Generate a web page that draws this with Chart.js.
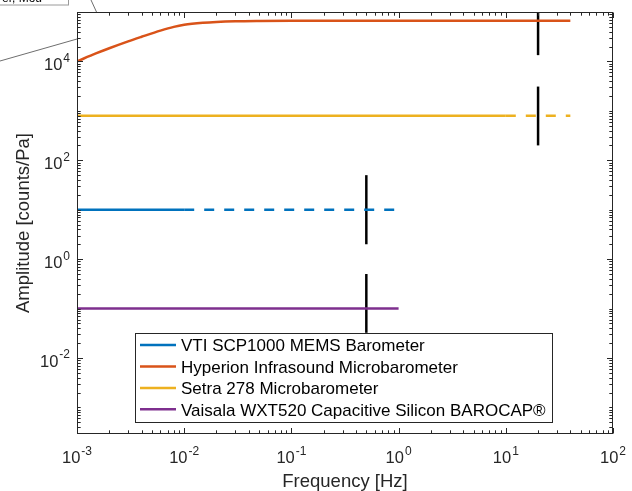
<!DOCTYPE html>
<html><head><meta charset="utf-8">
<script src="https://cdn.jsdelivr.net/npm/chart.js@4.4.0/dist/chart.umd.min.js"></script>
<style>html,body{margin:0;padding:0;background:#fff}#wrap{width:632px;height:491px;position:relative}</style>
</head><body><div id="wrap"><canvas id="c" width="632" height="491"></canvas></div>
<script>
// ---- data ----
const seriesNames = ['VTI SCP1000 MEMS Barometer','Hyperion Infrasound Microbarometer','Setra 278 Microbarometer','Vaisala WXT520 Capacitive Silicon BAROCAP®'];
const seriesColors = ['#0072BD','#D95319','#EDB120','#7E2F8E'];
const vtiSolidFreq = [0.001, 0.01];
const vtiSolidAmp = [10, 10];
const vtiDashFreq = [0.01, 1];
const vtiDashAmp = [10, 10];
const hypFreq = [0.001,0.0015,0.002,0.003,0.004,0.006,0.008,0.01,0.015,0.02,0.03,0.05,0.1,1,10,40];
const hypAmp = [10000,14500,18500,25500,31500,42000,50000,55000,60500,63000,65000,66000,66500,66500,66500,66500];
const setraSolidFreq = [0.001, 10];
const setraSolidAmp = [800, 800];
const setraDashFreq = [10, 40];
const setraDashAmp = [800, 800];
const vaisalaFreq = [0.001, 1];
const vaisalaAmp = [0.1, 0.1];
const barFreq = [20, 20, 0.5, 0.5];
const barLow = [13400, 200, 2, 0.02];
const barHigh = [100000, 3100, 50, 0.5];
const xTickExps = [-3,-2,-1,0,1,2];
const yTickExps = [-2,0,2,4];
const xRange = [0.001, 100];
const yRange = [2.9e-4, 1e5];
const xTitle = 'Frequency [Hz]';
const yTitle = 'Amplitude [counts/Pa]';
const artifactText = 'er, Mou';

const pts = (xs, ys) => xs.map((v,i)=>({x:v, y:ys[i]}));
const FONT = '"Liberation Sans", Arial, Helvetica, sans-serif';
const TXT = '#262626';

const datasets = [
  {label: seriesNames[0], legend:true, data: pts(vtiSolidFreq, vtiSolidAmp), borderColor: seriesColors[0], borderWidth:2.5},
  {label: '', data: pts(vtiDashFreq, vtiDashAmp), borderColor: seriesColors[0], borderWidth:2.5, borderDash:[10,10]},
  {label: seriesNames[1], legend:true, data: pts(hypFreq, hypAmp), borderColor: seriesColors[1], borderWidth:2.5, cubicInterpolationMode:'monotone'},
  {label: seriesNames[2], legend:true, data: pts(setraSolidFreq, setraSolidAmp), borderColor: seriesColors[2], borderWidth:2.5},
  {label: '', data: pts(setraDashFreq, setraDashAmp), borderColor: seriesColors[2], borderWidth:2.5, borderDash:[10,10]},
  {label: seriesNames[3], legend:true, data: pts(vaisalaFreq, vaisalaAmp), borderColor: seriesColors[3], borderWidth:2.5},
];
barFreq.forEach((f,i)=>{
  datasets.push({label:'', data:[{x:f,y:barLow[i]},{x:f,y:barHigh[i]}], borderColor:'#000', borderWidth:2.5});
});
datasets.forEach(d=>{ d.pointRadius=0; d.fill=false; d.borderCapStyle='butt'; });

function drawPow(ctx, exp, x, baseY, align){
  const base = '10', ex = String(exp);
  ctx.font = '16.5px ' + FONT;
  const wb = ctx.measureText(base).width;
  ctx.font = '12px ' + FONT;
  const we = ctx.measureText(ex).width;
  const gap = 1;
  const total = wb + we + gap;
  let x0 = align === 'center' ? x - total/2 : x - total;
  ctx.textAlign = 'left'; ctx.textBaseline = 'alphabetic';
  ctx.font = '16.5px ' + FONT;
  ctx.fillText(base, x0, baseY);
  ctx.font = '12px ' + FONT;
  ctx.fillText(ex, x0 + wb + gap, baseY - 8.5);
}

const matlabPlugin = {
  id: 'matlabAxes',
  afterDatasetsDraw(chart){
    const {ctx, chartArea:a, scales:{x, y}} = chart;
    ctx.save();
    // legend box
    const items = chart.data.datasets.filter(d=>d.legend);
    ctx.font = '17px ' + FONT;
    const maxW = Math.max(...items.map(d=>ctx.measureText(d.label).width));
    const rowH = 21.4;
    const bLeft = a.left + 58;
    const bBottom = a.bottom - 12.3;
    const firstC = bBottom - 12.4 - rowH*(items.length-1);
    const bTop = firstC - 12.3;
    const bRight = bLeft + 46 + maxW + 6;
    ctx.fillStyle = '#fff';
    ctx.fillRect(bLeft, bTop, bRight-bLeft, bBottom-bTop);
    ctx.strokeStyle = '#262626'; ctx.lineWidth = 1;
    ctx.strokeRect(Math.round(bLeft)+0.5, Math.round(bTop)+0.5, Math.round(bRight-bLeft), Math.round(bBottom-bTop));
    items.forEach((d,i)=>{
      const cy = firstC + i*rowH;
      ctx.strokeStyle = d.borderColor; ctx.lineWidth = 2.5; ctx.setLineDash([]);
      ctx.beginPath(); ctx.moveTo(bLeft+5, cy); ctx.lineTo(bLeft+41, cy); ctx.stroke();
      ctx.fillStyle = '#000'; ctx.font = '17px ' + FONT; ctx.textAlign='left'; ctx.textBaseline='alphabetic';
      ctx.fillText(d.label, bLeft+46, cy+6.3);
    });
    // frame
    ctx.strokeStyle = TXT; ctx.lineWidth = 1;
    const L = Math.round(a.left)+0.5, R = Math.round(a.right)-0.5, T = Math.round(a.top)+0.5, B = Math.round(a.bottom)-0.5;
    ctx.strokeRect(L, T, R-L, B-T);
    // ticks
    ctx.beginPath();
    for (let n=-4; n<=5; n++){
      for (let k=1; k<=9; k++){
        const v = k*Math.pow(10,n);
        const major = k===1;
        if (v >= xRange[0]*0.999 && v <= xRange[1]*1.001){
          const px = Math.round(x.getPixelForValue(v))+0.5;
          const len = major ? 5.5 : 3.2;
          ctx.moveTo(px, B); ctx.lineTo(px, B-len);
          ctx.moveTo(px, T); ctx.lineTo(px, T+len);
        }
        if (v >= yRange[0] && v <= yRange[1]*1.001){
          const py = Math.round(y.getPixelForValue(v))+0.5;
          const ymaj = major && n%2===0;
          const len = ymaj ? 5.5 : 3.2;
          ctx.moveTo(L, py); ctx.lineTo(L+len, py);
          ctx.moveTo(R, py); ctx.lineTo(R-len, py);
        }
      }
    }
    ctx.stroke();
    // tick labels
    ctx.fillStyle = TXT;
    xTickExps.forEach(e=>{ drawPow(ctx, e, x.getPixelForValue(Math.pow(10,e)), a.bottom + 29, 'center'); });
    yTickExps.forEach(e=>{ drawPow(ctx, e, a.left - 7, y.getPixelForValue(Math.pow(10,e)) + 9, 'right'); });
    // titles
    ctx.font = '18.5px ' + FONT; ctx.fillStyle = TXT; ctx.textAlign='center'; ctx.textBaseline='alphabetic';
    ctx.fillText(xTitle, (a.left+a.right)/2, a.bottom + 53);
    ctx.save();
    ctx.translate(29, (a.top+a.bottom)/2);
    ctx.rotate(-Math.PI/2);
    ctx.fillText(yTitle, 0, 0);
    ctx.restore();
    // overlapping artifact from a neighbouring figure (top-left corner)
    ctx.strokeStyle = '#6e6e6e'; ctx.lineWidth = 1;
    ctx.beginPath(); ctx.moveTo(0, 61); ctx.lineTo(a.left, 39); ctx.moveTo(91, 0); ctx.lineTo(96.5, a.top); ctx.stroke();
    ctx.fillStyle = '#fff'; ctx.fillRect(0, 0, 69, 5);
    ctx.strokeStyle = '#9a9a9a'; ctx.strokeRect(-1, -1, 69.5, 6);
    ctx.fillStyle = '#000'; ctx.font = '12px ' + FONT; ctx.textAlign='left';
    ctx.fillText(artifactText, 2, 2);
    ctx.restore();
  }
};

new Chart(document.getElementById('c'), {
  type: 'line',
  data: { datasets },
  options: {
    responsive: false, animation: false, devicePixelRatio: 1,
    layout: { padding: { left: 77, right: 19, top: 12, bottom: 57 } },
    plugins: { legend: { display: false }, tooltip: { enabled: false } },
    elements: { line: { tension: 0 } },
    scales: {
      x: { type: 'logarithmic', min: xRange[0], max: xRange[1], display: false },
      y: { type: 'logarithmic', min: yRange[0], max: yRange[1], display: false }
    }
  },
  plugins: [matlabPlugin]
});
</script></body></html>
